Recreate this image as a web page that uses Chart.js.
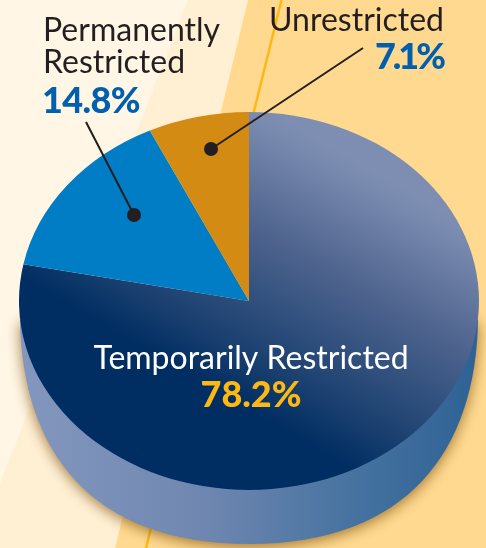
<!DOCTYPE html>
<html><head><meta charset="utf-8">
<script src="https://cdn.jsdelivr.net/npm/chart.js@4"></script>
<style>html,body{margin:0;padding:0;background:#FFF6E5;overflow:hidden}canvas{display:block}</style>
</head><body>
<div style="width:486px;height:548px"><canvas id="c" width="486" height="548"></canvas></div>
<script>
const categories = ["Temporarily Restricted", "Permanently Restricted", "Unrestricted"];
const shares = [78.2, 14.8, 7.1];
const shareLabels = ["78.2%", "14.8%", "7.1%"];

const SQUASH = 189 / 230;
const FONT = 'Lato, "Open Sans", sans-serif';
const canvas = document.getElementById('c');
const c0 = canvas.getContext('2d');

// gradient for the big slice (coordinates are in the un-squashed space)
const bigGrad = c0.createLinearGradient(400, 159.6, 221.5, 413.6);
bigGrad.addColorStop(0, '#7D8EB2');
bigGrad.addColorStop(0.055, '#7A8BB0');
bigGrad.addColorStop(0.39, '#50658F');
bigGrad.addColorStop(0.82, '#1A4070');
bigGrad.addColorStop(1, '#002D62');

const pieTilt = {
  id: 'pieTilt',
  beforeDraw(chart) {
    const ctx = chart.ctx;
    const bg = (pts, col) => { ctx.fillStyle = col; ctx.beginPath(); pts.forEach((p,i)=> i?ctx.lineTo(p[0],p[1]):ctx.moveTo(p[0],p[1])); ctx.closePath(); ctx.fill(); };
    ctx.save();
    bg([[0,0],[486,0],[486,548],[0,548]], '#FFF6E5');
    bg([[188,0],[486,0],[486,548],[0,548],[0,484]], '#FFF0D4');
    bg([[248,0],[486,0],[486,548],[115,548]], '#FFD98F');
    ctx.strokeStyle = '#FDB913'; ctx.lineWidth = 2.5;
    ctx.beginPath(); ctx.moveTo(281.5,0); ctx.lineTo(146,548); ctx.stroke();
    ctx.restore();
  },
  beforeDatasetsDraw(chart) {
    const ctx = chart.ctx;
    const a = chart.getDatasetMeta(0).data[0];
    const cx = a.x, cy = a.y, r = a.outerRadius;
    ctx.save();
    const g = ctx.createLinearGradient(cx - r, 0, cx + r, 0);
    g.addColorStop(0, '#8497BE');
    g.addColorStop(0.4, '#6F87B0');
    g.addColorStop(0.75, '#44719F');
    g.addColorStop(1, '#2E6295');
    ctx.fillStyle = g;
    ctx.shadowColor = 'rgba(130,85,20,0.75)';
    ctx.shadowBlur = 14;
    ctx.shadowOffsetY = 3;
    // extruded side of the disc
    ctx.beginPath();
    ctx.moveTo(cx - r + 1, cy + 19);
    ctx.bezierCurveTo(cx - r + 3, cy + 149, cx - r + 71, cy + 243, cx, cy + 243);
    ctx.bezierCurveTo(cx + r - 71, cy + 243, cx + r - 3, cy + 149, cx + r - 1, cy + 19);
    ctx.closePath();
    ctx.fill();
    ctx.restore();
    ctx.save();
    ctx.translate(0, cy); ctx.scale(1, SQUASH); ctx.translate(0, -cy);
  },
  afterDatasetsDraw(chart) {
    chart.ctx.restore();
  },
  afterDraw(chart) {
    const ctx = chart.ctx;
    ctx.save();
    ctx.textBaseline = 'alphabetic';
    const leader = (x1,y1,x2,y2) => {
      ctx.strokeStyle = '#231F20'; ctx.lineWidth = 2;
      ctx.beginPath(); ctx.moveTo(x1,y1); ctx.lineTo(x2,y2); ctx.stroke();
      ctx.fillStyle = '#231F20';
      ctx.beginPath(); ctx.arc(x2,y2,7,0,Math.PI*2); ctx.fill();
    };
    leader(86,122,134,215);
    leader(363,48,211,149);
    const text = (s,x,y,col,font,align,sp) => { ctx.font = font; ctx.letterSpacing = (sp||0) + 'px'; ctx.fillStyle = col; ctx.textAlign = align; ctx.fillText(s,x,y); };
    const reg = '400 32px ' + FONT, bold = '900 36px ' + FONT;
    text('Permanently', 43, 41, '#231F20', reg, 'left');
    text('Restricted', 43, 73, '#231F20', reg, 'left');
    text(shareLabels[1], 42, 113, '#0060AE', bold, 'left', -0.6);
    text(categories[2], 444, 31, '#231F20', reg, 'right');
    text(shareLabels[2], 443, 69, '#0060AE', bold, 'right', -3);
    text(categories[0], 251, 369, '#FFFFFF', reg, 'center');
    text(shareLabels[0], 251, 407, '#FDB913', bold, 'center');
    ctx.restore();
  }
};

new Chart(canvas, {
  type: 'pie',
  data: {
    labels: categories,
    datasets: [{
      data: shares,
      backgroundColor: [bigGrad, '#007DC5', '#D38B14'],
      borderWidth: 0
    }]
  },
  options: {
    responsive: false,
    animation: false,
    layout: { padding: { left: 19, right: 7, top: 71, bottom: 17 } },
    plugins: { legend: { display: false }, tooltip: { enabled: false } }
  },
  plugins: [pieTilt]
});
</script>
</body></html>
